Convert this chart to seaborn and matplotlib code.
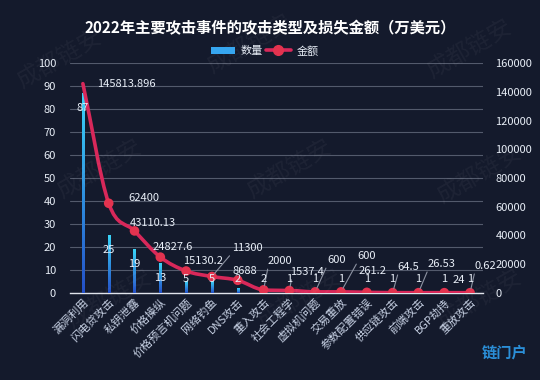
import numpy as np
import matplotlib
matplotlib.use('Agg')
import matplotlib.pyplot as plt
import seaborn as sns
from matplotlib.path import Path
from matplotlib.patches import PathPatch, Patch
from matplotlib.lines import Line2D

sns.set_style('dark')
plt.rcParams['font.family'] = ['Noto Sans CJK SC', 'DejaVu Sans']
plt.rcParams['axes.unicode_minus'] = False

categories = ['漏洞利用', '闪电贷攻击', '私钥泄露', '价格操纵', '价格预言机问题', '网络钓鱼',
              'DNS攻击', '重入攻击', '社会工程学', '虚拟机问题', '交易重放', '参数配置错误',
              '供应链攻击', '前端攻击', 'BGP劫持', '重放攻击']
counts = [87, 25, 19, 13, 5, 5, 2, 2, 1, 1, 1, 1, 1, 1, 1, 1]
amounts = [145813.896, 62400, 43110.13, 24827.6, 15130.2, 11300, 8688, 2000,
           1537.4, 600, 600, 261.2, 64.5, 26.53, 24, 0.62]

# label placement for the amount labels (pixels from the point) and leader lines
amount_offsets = [(14, 0), (20, 5), (18, 8), (12, 10), (17, 10), (35, 29), (7, 9), (16, 29),
                  (18, 19), (21, 32), (26, 36), (6, 21), (16, 26), (23, 29), (15, 13), (15, 27)]
amount_leader = [False, False, False, False, False, True, False, True,
                 True, True, True, False, True, True, False, True]

bg = '#141a2c'
txt = '#e8eef7'
grid = '#535a6c'
line_c = '#d8285a'
dot_c = '#e3334f'

fig = plt.figure(figsize=(5.4, 3.8), dpi=100, facecolor=bg)
ax = fig.add_axes([0.1296, 0.2297, 0.7648, 0.6037])
ax.set_facecolor(bg)

# faint watermark
for wx, wy in [(60, 60), (250, 45), (470, 50), (100, 170), (290, 170), (480, 175),
               (110, 300), (300, 300), (480, 300)]:
    fig.text(wx / 540, 1 - wy / 380, '成都链安', color='white', alpha=0.045, fontsize=17,
             rotation=30, ha='center', va='center', zorder=0)

sns.barplot(x=categories, y=counts, order=categories, ax=ax, width=0.09,
            color='#2f8be0', saturation=1, zorder=3)

# blue vertical gradient on each bar
grad = np.linspace(1, 0, 100).reshape(-1, 1)
cmap = matplotlib.colors.LinearSegmentedColormap.from_list('b', ['#2450c8', '#3ad4f8'])
for p in ax.patches:
    x0, y0 = p.get_x(), p.get_y()
    w, h = p.get_width(), p.get_height()
    p.set_facecolor('none')
    p.set_edgecolor('none')
    im = ax.imshow(grad, cmap=cmap, aspect='auto', extent=[x0, x0 + w, y0, y0 + h],
                   zorder=3, vmin=0, vmax=1)
    im.set_clip_path(p)

ax.set_xlim(-0.5, len(categories) - 0.5)
ax.set_ylim(0, 100)
ax.set_yticks(range(0, 101, 10))
ax.set_xlabel('')
ax.set_ylabel('')
ax.grid(axis='y', color=grid, lw=0.8)
ax.grid(axis='x', visible=False)
ax.set_axisbelow(True)
for s in ['top', 'left', 'right']:
    ax.spines[s].set_visible(False)
ax.spines['bottom'].set_color('#e0e4ec')
ax.spines['bottom'].set_linewidth(1)
ax.tick_params(axis='y', colors=txt, labelsize=8, length=0, pad=10)
ax.tick_params(axis='x', colors='#c9d3e6', labelsize=8, length=0, pad=3)
plt.setp(ax.get_xticklabels(), rotation=45, ha='right', rotation_mode='anchor')

ax2 = ax.twinx()
ax2.set_ylim(0, 160000)
ax2.set_yticks(range(0, 160001, 20000))
ax2.tick_params(axis='y', colors=txt, labelsize=8, length=0, pad=9)
ax2.grid(False)
for s in ax2.spines.values():
    s.set_visible(False)

# smooth (monotone cubic) curve through the points, drawn as bezier path
xs = np.arange(len(amounts), dtype=float)
ys = np.array(amounts, dtype=float)
d = np.diff(ys) / np.diff(xs)
m = np.zeros_like(ys)
m[0], m[-1] = d[0], d[-1]
for k in range(1, len(ys) - 1):
    m[k] = 0 if d[k - 1] * d[k] <= 0 else (d[k - 1] + d[k]) / 2
for k in range(len(d)):
    if d[k] == 0:
        m[k] = m[k + 1] = 0
        continue
    a, b = m[k] / d[k], m[k + 1] / d[k]
    s = a * a + b * b
    if s > 9:
        t = 3 / np.sqrt(s)
        m[k], m[k + 1] = t * a * d[k], t * b * d[k]
verts = [(xs[0], ys[0])]
codes = [Path.MOVETO]
for k in range(len(ys) - 1):
    h = xs[k + 1] - xs[k]
    verts += [(xs[k] + h / 3, ys[k] + m[k] * h / 3),
              (xs[k + 1] - h / 3, ys[k + 1] - m[k + 1] * h / 3),
              (xs[k + 1], ys[k + 1])]
    codes += [Path.CURVE4] * 3
ax2.add_patch(PathPatch(Path(verts, codes), facecolor='none', edgecolor=line_c,
                        lw=2.6, zorder=4, capstyle='round'))
sns.scatterplot(x=xs[1:], y=ys[1:], ax=ax2, color=dot_c, s=48, edgecolor='none', zorder=5)

# count labels drawn on the top axes so they sit above the line
scale = 160000 / 100
for i, v in enumerate(counts):
    ax2.text(i, max(v - 6.5, 6) * scale, str(v), ha='center', va='center',
             color=txt, fontsize=8, zorder=7)

for i, v in enumerate(amounts):
    dx, dy = amount_offsets[i]
    kw = {}
    if amount_leader[i]:
        kw['arrowprops'] = dict(arrowstyle='-', color='#8d93a2', lw=0.8, shrinkA=0, shrinkB=3,
                                relpos=(0.05, 0.1))
    ax2.annotate(str(v), (i, v), xytext=(dx, dy), textcoords='offset pixels',
                 ha='left' if i <= 1 else 'center', va='center', color=txt, fontsize=8,
                 zorder=6, **kw)

fig.text(0.5, 1 - 28 / 380, '2022年主要攻击事件的攻击类型及损失金额（万美元）',
         ha='center', va='center', color='white', fontsize=11, fontweight='bold')

handles = [Patch(facecolor='#36a6f0', edgecolor='none'),
           Line2D([0], [0], color=line_c, lw=2.6, marker='o', markersize=7,
                  markerfacecolor=dot_c, markeredgecolor=dot_c, markevery=[1])]
fig.legend(handles, ['数量', '金额'], loc='center', bbox_to_anchor=(0.49, 1 - 51 / 380),
           ncol=2, frameon=False, fontsize=8, labelcolor=txt, handlelength=2.2,
           handleheight=0.7, columnspacing=0.3, handletextpad=0.5)

fig.text(505 / 540, 1 - 353 / 380, '链门户', color='#2b8fd8', fontsize=11, fontweight='bold',
         ha='center', va='center')

fig.savefig('out.png', dpi=100, facecolor=bg)
